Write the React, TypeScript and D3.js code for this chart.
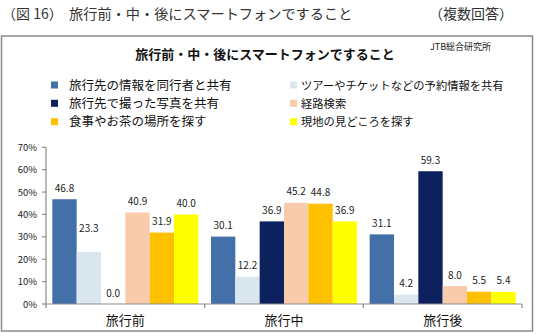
import React from "react";
import * as d3 from "d3";

const categories = ["旅行前", "旅行中", "旅行後"];
const seriesNames = [
  "旅行先の情報を同行者と共有",
  "ツアーやチケットなどの予約情報を共有",
  "旅行先で撮った写真を共有",
  "経路検索",
  "食事やお茶の場所を探す",
  "現地の見どころを探す",
];
const seriesColors = ["#4370A8", "#DAE7EF", "#0C215E", "#F8CBAD", "#FFC000", "#FFFF00"];
// values[series][category]
const values = [
  [46.8, 30.1, 31.1],
  [23.3, 12.2, 4.2],
  [0.0, 36.9, 59.3],
  [40.9, 45.2, 8.0],
  [31.9, 44.8, 5.5],
  [40.0, 36.9, 5.4],
];
const yTicks = [0, 10, 20, 30, 40, 50, 60, 70];
// extra label lift (px) for labels that Excel shifted to avoid overlap
const labelLift: Record<string, number> = { "0-1": 12 };

const FONT = "'Noto Sans CJK JP', 'Noto Sans', sans-serif";

export default function App() {
  const W = 536, H = 334;
  const left = 46, right = 522, top = 147.3, bottom = 304;
  const x0 = d3.scaleBand<string>().domain(categories).range([left, right]).paddingInner(0).paddingOuter(0);
  const x1 = d3.scaleBand<number>().domain(d3.range(seriesNames.length)).range([0, x0.bandwidth()]).paddingInner(0).paddingOuter(0.26);
  const y = d3.scaleLinear().domain([0, 70]).range([bottom, top]);
  const axisColor = "#8C8C8C";

  const legendRows = [85, 103.3, 121.7];
  const legendCols = [51, 290];
  const legendFont = [12.5, 11.3];

  return (
    <svg width={W} height={H} style={{ position: "absolute", left: 0, top: 0, background: "#fff" }} fontFamily={FONT}>
      <rect x={0} y={0} width={W} height={H} fill="#fff" />
      {/* header */}
      <text x={2} y={19} fontSize={14} fill="#333">（図 16）</text>
      <text x={69} y={19} fontSize={14.2} fill="#333">旅行前・中・後にスマートフォンですること</text>
      <text x={513} y={19} fontSize={14} fill="#333" textAnchor="end">（複数回答）</text>
      {/* frame */}
      <rect x={1.5} y={36} width={531} height={295} fill="#fff" stroke="#8A8A8A" strokeWidth={1.5} />
      {/* title */}
      <text x={265} y={58.5} fontSize={13} fontWeight="bold" textAnchor="middle" fill="#111">旅行前・中・後にスマートフォンですること</text>
      <text x={430} y={50} fontSize={9} fill="#222">JTB総合研究所</text>
      {/* legend */}
      {seriesNames.map((name, i) => {
        const col = i % 2, row = Math.floor(i / 2);
        const lx = legendCols[col], ly = legendRows[row];
        return (
          <g key={name}>
            <rect x={lx} y={ly - 3.5} width={7} height={7} fill={seriesColors[i]} />
            <text x={col === 0 ? lx + 18 : lx + 11} y={ly + 4.5} fontSize={legendFont[col]} fill="#111">{name}</text>
          </g>
        );
      })}
      {/* y axis */}
      <line x1={left} x2={left} y1={top} y2={bottom} stroke={axisColor} strokeWidth={1.2} />
      {yTicks.map((t) => (
        <g key={t}>
          <line x1={left - 4} x2={left} y1={y(t)} y2={y(t)} stroke={axisColor} strokeWidth={1.2} />
          <text x={37} y={y(t) + 3.5} fontSize={9.5} textAnchor="end" fill="#222">{t}%</text>
        </g>
      ))}
      {/* bars */}
      {categories.map((c, ci) => (
        <g key={c}>
          {values.map((vals, si) => {
            const bx = (x0(c) ?? 0) + (x1(si) ?? 0);
            const v = vals[ci];
            const lift = labelLift[`${ci}-${si}`] ?? 0;
            return (
              <g key={si}>
                <rect x={bx} y={y(v)} width={x1.bandwidth()} height={bottom - y(v)} fill={seriesColors[si]} />
                <text x={bx + x1.bandwidth() / 2} y={y(v) - 7.5 - lift} fontSize={10} textAnchor="middle" fill="#222">{v.toFixed(1)}</text>
              </g>
            );
          })}
        </g>
      ))}
      {/* x axis */}
      <line x1={left} x2={right} y1={bottom} y2={bottom} stroke={axisColor} strokeWidth={1.2} />
      {categories.map((c) => (
        <line key={c} x1={(x0(c) ?? 0) + x0.bandwidth()} x2={(x0(c) ?? 0) + x0.bandwidth()} y1={bottom} y2={bottom + 4} stroke={axisColor} strokeWidth={1.2} />
      ))}
      <line x1={left} x2={left} y1={bottom} y2={bottom + 4} stroke={axisColor} strokeWidth={1.2} />
      {categories.map((c) => (
        <text key={c} x={(x0(c) ?? 0) + x0.bandwidth() / 2} y={325} fontSize={13} textAnchor="middle" fill="#111">{c}</text>
      ))}
    </svg>
  );
}
